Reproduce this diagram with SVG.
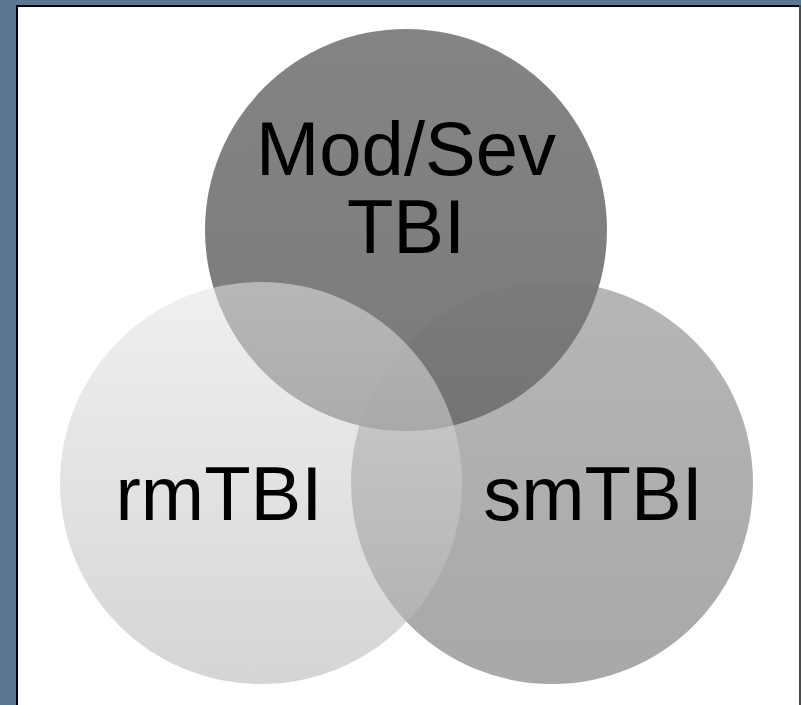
<svg xmlns="http://www.w3.org/2000/svg" width="801" height="705" viewBox="0 0 801 705">
  <style>
    .lbl { font-family: "Liberation Sans", Arial, sans-serif; font-size: 76px; fill: #000; text-anchor: middle; }
  </style>
  <defs>
    <linearGradient id="gTop" x1="0" y1="0" x2="0" y2="1">
      <stop offset="0" stop-color="#848484"/>
      <stop offset="1" stop-color="#7a7a7a"/>
    </linearGradient>
    <linearGradient id="gLeft" x1="0" y1="0" x2="0" y2="1">
      <stop offset="0" stop-color="#e4e4e4"/>
      <stop offset="1" stop-color="#b4b4b4"/>
    </linearGradient>
    <linearGradient id="gRight" x1="0" y1="0" x2="0" y2="1">
      <stop offset="0" stop-color="#787878"/>
      <stop offset="1" stop-color="#5e5e5e"/>
    </linearGradient>
  </defs>
  <rect x="0" y="0" width="801" height="705" fill="#5b7793"/>
  <rect x="16" y="5" width="785" height="700" fill="#000"/>
  <rect x="18" y="7" width="781" height="698" fill="#fff"/>
  <rect x="799" y="5" width="2" height="700" fill="#4a4a4a"/>
  <g id="node-modsev">
    <circle cx="406" cy="230" r="201" fill="url(#gTop)"/>
  </g>
  <g id="node-smtbi">
    <circle cx="552" cy="483" r="201" fill="url(#gRight)" fill-opacity="0.54"/>
  </g>
  <g id="node-rmtbi">
    <circle cx="261" cy="483" r="201" fill="url(#gLeft)" fill-opacity="0.56"/>
  </g>
  <g id="labels">
    <text class="lbl" x="406" y="175">Mod/Sev</text>
    <text class="lbl" x="406" y="253">TBI</text>
    <text class="lbl" x="219" y="520">rmTBI</text>
    <text class="lbl" x="593" y="520">smTBI</text>
  </g>
  <g id="connectors"/>
</svg>
